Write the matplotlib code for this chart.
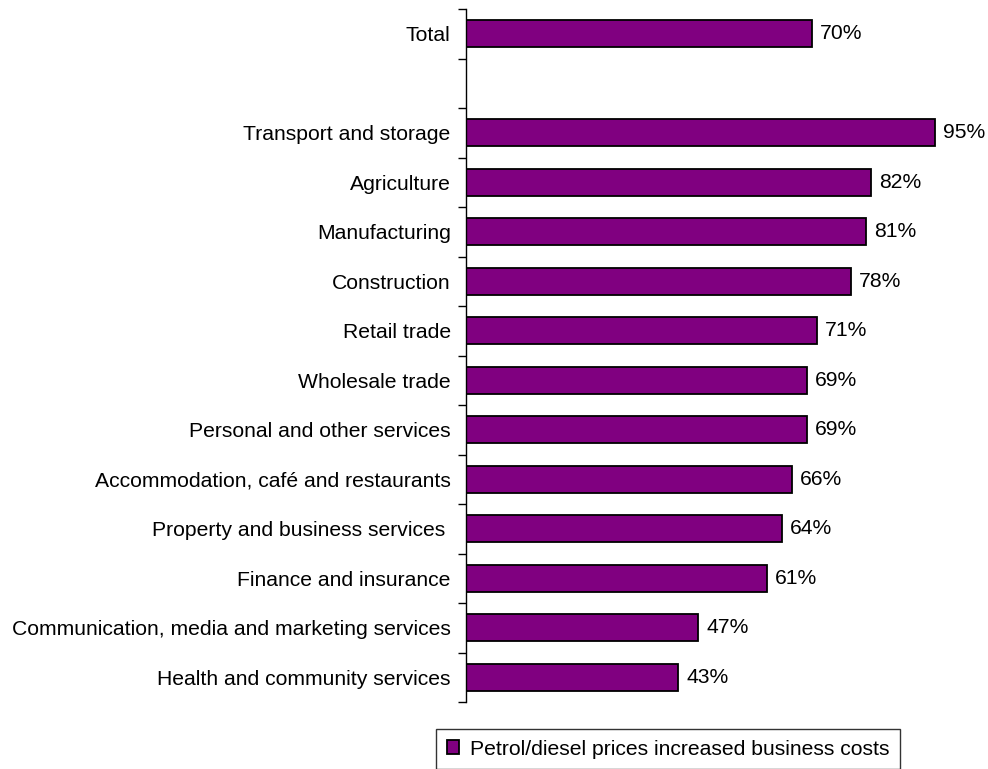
import matplotlib
matplotlib.use("Agg")
import matplotlib.pyplot as plt
from matplotlib.patches import Patch

plt.rcParams['font.family'] = ['Liberation Sans', 'DejaVu Sans']

categories = [
    "Total",
    "",
    "Transport and storage",
    "Agriculture",
    "Manufacturing",
    "Construction",
    "Retail trade",
    "Wholesale trade",
    "Personal and other services",
    "Accommodation, café and restaurants",
    "Property and business services ",
    "Finance and insurance",
    "Communication, media and marketing services",
    "Health and community services",
]
values = [70, None, 95, 82, 81, 78, 71, 69, 69, 66, 64, 61, 47, 43]
series_name = "Petrol/diesel prices increased business costs"

bar_color = "#800080"
fs = 15.2

W, H = 988, 769
fig = plt.figure(figsize=(W / 100, H / 100), dpi=100)
left, right = 466, 960
top, bottom = 9, 702
ax = fig.add_axes([left / W, 1 - bottom / H, (right - left) / W, (bottom - top) / H])

n = len(categories)
ypos = list(range(n))
for y, v in zip(ypos, values):
    if v is None:
        continue
    ax.barh(y, v, height=0.55, color=bar_color, edgecolor="black", linewidth=1.3)
    ax.text(v + 1.6, y, f"{v}%", va="center", ha="left", fontsize=fs)

ax.set_ylim(n - 0.5, -0.5)
ax.set_xlim(0, 100)

# category labels in the middle of each slot, tick marks between slots
ax.set_yticks(ypos)
ax.set_yticklabels(categories, fontsize=fs)
ax.tick_params(axis="y", which="major", length=0, pad=11)
ax.set_yticks([i - 0.5 for i in range(n + 1)], minor=True)
ax.tick_params(axis="y", which="minor", length=6, width=1, direction="out")

ax.set_xticks([])
for side in ("top", "right", "bottom"):
    ax.spines[side].set_visible(False)
ax.spines["left"].set_linewidth(1)

leg = fig.legend(
    handles=[Patch(facecolor=bar_color, edgecolor="black", linewidth=1.3, label=series_name)],
    loc="upper left",
    bbox_to_anchor=(436 / W, 1 - 729 / H),
    fontsize=fs,
    frameon=True,
    fancybox=False,
    borderpad=0.5,
    handlelength=0.6,
    handleheight=0.6,
    handletextpad=0.5,
    borderaxespad=0,
)
leg.get_frame().set_edgecolor("black")
leg.get_frame().set_linewidth(1)

fig.savefig("out.png", dpi=100)
